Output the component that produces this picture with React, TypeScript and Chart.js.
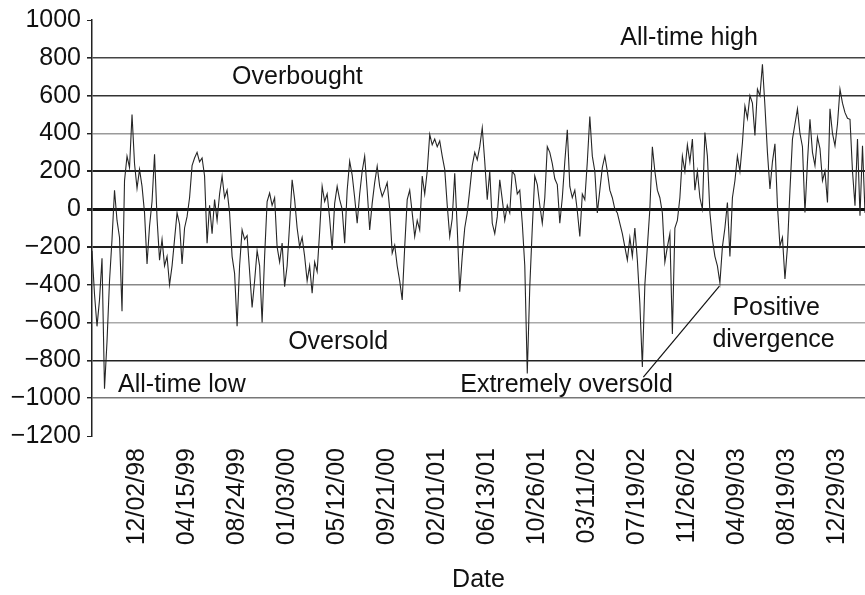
import React, { useEffect, useRef } from "react";
import { Chart, registerables } from "chart.js";

Chart.register(...registerables);

const FONT = "'Liberation Sans', Arial, Helvetica, sans-serif";

// Date tick labels shown along the x axis
const dateTicks = [
  "12/02/98", "04/15/99", "08/24/99", "01/03/00", "05/12/00",
  "09/21/00", "02/01/01", "06/13/01", "10/26/01", "03/11/02",
  "07/19/02", "11/26/02", "04/09/03", "08/19/03", "12/29/03",
];
const TICK_START = 18;
const TICK_STEP = 20;

// Oscillator values (one value every ~2.5 px)
const oscA = [
  -220, -450, -620, -480, -260, -950, -700, -380, -160, 100,
  -60, -150, -540, 150, 280, 220, 500, 240, 110, 210,
  120, -20, -290, -90, 40, 290, -50, -270, -160, -300,
  -250, -400, -300, -160, -20, -80, -290, -100, -40, 60,
  230, 270, 300, 250, 270, 175, -180, 20, -130, 50,
];
const oscB = [
  -60, 80, 175, 60, 100, -20, -250, -340, -620, -300,
  -110, -160, -140, -330, -520, -380, -220, -300, -600, -250,
  40, 85, 20, 60, -200, -280, -180, -410, -300, -80,
  155, 50, -100, -200, -150, -250, -380, -300, -445, -280,
  -330, -120, 120, 40, 80, -50, -215, 30, 120, 50,
];
const oscC = [
  0, -180, 100, 253, 180, 60, -75, 80, 200, 280,
  100, -110, 30, 140, 226, 120, 67, 100, 140, 0,
  -233, -190, -300, -380, -480, -200, 50, 100, -20, -145,
  -60, -110, 175, 80, 200, 395, 340, 370, 330, 360,
  280, 210, 20, -145, -50, 190, -100, -437, -250, -100,
];
const oscD = [
  -20, 100, 230, 300, 260, 330, 430, 250, 50, 200,
  -75, -130, -40, 155, 50, -60, 20, -20, 200, 180,
  80, 100, -75, -300, -870, -410, -100, 175, 130, 20,
  -75, 60, 330, 300, 240, 160, 130, -75, 60, 250,
  420, 120, 60, 100, -10, -145, 80, 50, 250, 490,
];
const oscE = [
  280, 200, -20, 100, 220, 280, 200, 100, 60, 0,
  -20, -75, -130, -200, -270, -150, -250, -100, -270, -500,
  -835, -400, -200, 0, 330, 200, 100, 60, -20, -280,
  -200, -130, -660, -100, -60, 60, 280, 200, 340, 250,
  370, 100, 200, 60, 0, 405, 280, -18, -160, -250,
];
const oscF = [
  -300, -390, -200, -100, 35, -250, 60, 150, 280, 200,
  350, 545, 480, 600, 560, 390, 635, 600, 766, 545,
  300, 106, 250, 345, 18, -195, -150, -370, -200, 100,
  370, 450, 530, 400, 330, -18, 250, 475, 300, 230,
  380, 320, 150, 200, 35, 530, 400, 335, 450, 634,
];
const oscG = [560, 510, 480, 475, 200, 18, 370, -35, 335, -20];

const oscValues = [...oscA, ...oscB, ...oscC, ...oscD, ...oscE, ...oscF, ...oscG];

// Annotations: text, category position (left edge), level
const noteTexts = [
  "All-time high", "Overbought", "Oversold", "All-time low",
  "Extremely oversold", "Positive", "divergence",
];
const noteAt = [211.2, 56, 78.4, 10.4, 147.2, 256, 248];
const noteLevels = [905, 700, -703, -931, -931, -524, -693];

// Divergence line: [category position, level]
const divergenceFrom = [220.4, -889];
const divergenceTo = [250.8, -407];

function levelStyle(v: number): [string, number] {
  switch (v) {
    case 800: return ["#444", 1.6];
    case 600: return ["#333", 1.6];
    case 400: return ["#9a9a9a", 1.4];
    case 200: return ["#222", 2];
    case 0: return ["#111", 3];
    case -200: return ["#222", 2];
    case -400: return ["#888", 1.4];
    case -600: return ["#aaa", 1.6];
    case -800: return ["#222", 1.6];
    case -1000: return ["#777", 1.4];
    default: return ["rgba(0,0,0,0)", 1];
  }
}

const notesPlugin = {
  id: "notes",
  afterDatasetsDraw(chart: any) {
    const { ctx, scales } = chart;
    const x = scales.x;
    const y = scales.y;
    ctx.save();
    ctx.fillStyle = "#111";
    ctx.font = `25px ${FONT}`;
    ctx.textBaseline = "middle";
    ctx.textAlign = "left";
    noteTexts.forEach((t, k) => {
      ctx.fillText(t, x.getPixelForValue(noteAt[k]), y.getPixelForValue(noteLevels[k]));
    });
    ctx.strokeStyle = "#111";
    ctx.lineWidth = 1.2;
    ctx.beginPath();
    ctx.moveTo(x.getPixelForValue(divergenceFrom[0]), y.getPixelForValue(divergenceFrom[1]));
    ctx.lineTo(x.getPixelForValue(divergenceTo[0]), y.getPixelForValue(divergenceTo[1]));
    ctx.stroke();
    ctx.restore();
  },
};

export default function App() {
  const canvasRef = useRef<HTMLCanvasElement | null>(null);

  useEffect(() => {
    const canvas = canvasRef.current;
    if (!canvas) return;
    const labels: string[] = oscValues.map(() => "");
    dateTicks.forEach((d, k) => {
      const idx = TICK_START + k * TICK_STEP;
      if (idx < labels.length) labels[idx] = d;
    });

    const chart = new Chart(canvas, {
      type: "line",
      data: {
        labels,
        datasets: [
          {
            data: oscValues,
            borderColor: "#262626",
            borderWidth: 1.1,
            pointRadius: 0,
            tension: 0,
            fill: false,
          },
        ],
      },
      options: {
        animation: false,
        responsive: true,
        maintainAspectRatio: false,
        layout: { padding: { top: 20, right: 0, bottom: 0, left: 0 } },
        plugins: {
          legend: { display: false },
          tooltip: { enabled: false },
        },
        scales: {
          x: {
            type: "category",
            offset: false,
            border: { display: false },
            grid: { display: false, drawTicks: false },
            ticks: {
              autoSkip: false,
              maxRotation: 90,
              minRotation: 90,
              padding: 12,
              color: "#111",
              font: { family: FONT, size: 25 },
            },
            title: {
              display: true,
              text: "Date",
              color: "#111",
              font: { family: FONT, size: 25 },
              padding: { top: 0, bottom: 0 },
            },
            afterFit(scale: any) {
              scale.height = 159;
              scale.paddingLeft = 0;
              scale.paddingRight = 0;
            },
          },
          y: {
            min: -1200,
            max: 1000,
            border: { display: true, color: "#222", width: 1.5 },
            grid: {
              drawTicks: true,
              tickLength: 5,
              tickColor: "#222",
              color: (c: any) => levelStyle(c.tick ? c.tick.value : NaN)[0],
              lineWidth: (c: any) => levelStyle(c.tick ? c.tick.value : NaN)[1],
            },
            ticks: {
              stepSize: 200,
              padding: 6,
              color: "#111",
              font: { family: FONT, size: 25 },
              callback: (v: any) => (Number(v) < 0 ? "\u2212" + Math.abs(Number(v)) : String(v)),
            },
            afterFit(scale: any) {
              scale.width = 92;
              scale.paddingTop = 0;
              scale.paddingBottom = 0;
            },
          },
        },
      },
      plugins: [notesPlugin],
    });
    return () => chart.destroy();
  }, []);

  return (
    <div style={{ position: "fixed", left: 0, top: 0, width: 865, height: 595, background: "#fff" }}>
      <canvas ref={canvasRef} />
    </div>
  );
}
